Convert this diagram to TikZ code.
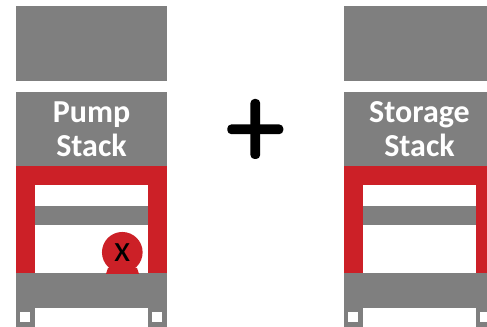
\documentclass[tikz,border=0pt]{standalone}
\usepackage{fontspec}
\setmainfont{Carlito}
\definecolor{cBlock}{RGB}{127,127,127}
\definecolor{cLoop}{RGB}{204,32,39}

\begin{document}
\begin{tikzpicture}[
  x=0.75pt,y=-0.75pt,
  block/.style={rectangle, fill=cBlock, inner sep=0pt, outer sep=0pt, minimum width=113.25pt},
  tall/.style ={block, minimum height=56.25pt},
  stack/.style={block, minimum height=55.5pt, text=white, align=center,
                font=\fontsize{24}{25.5}\selectfont\bfseries},
  base/.style ={block, minimum height=26.25pt},
  bar/.style  ={block, minimum width=84.75pt, minimum height=14.25pt},
  foot/.style ={block, minimum width=14.25pt, minimum height=14.25pt},
  hole/.style ={rectangle, fill=white, inner sep=0pt, outer sep=0pt,
                minimum width=7.5pt, minimum height=7.5pt},
  pipe/.style ={rectangle, fill=cLoop, inner sep=0pt, outer sep=0pt},
  pump/.style ={circle, fill=cLoop, inner sep=0pt, outer sep=0pt, minimum size=30.5pt,
                font=\fontsize{28}{30}\selectfont},
  plus/.style ={rectangle, rounded corners=3pt, fill=black, inner sep=0pt, outer sep=0pt},
]
\useasboundingbox (0,0) rectangle (487,327);
\clip (0,0) rectangle (487,327);

% rows: 43.5 / 129 / 283.5+  columns: 91.5 (left) / 419.5 (right)
% ----- left column ------------------------------------------------------
\node[tall]  (topL)   at (91.5,43.5) {};
\node[stack] (stackL) at (91.5,129.5) {Pump\\Stack};
\node[pipe,minimum width=113.25pt,minimum height=14.25pt] (pipeTL) at (91.5,175.5) {};
\node[pipe,minimum width=14.25pt,minimum height=80.25pt] (pipeAL) at (25.5,219.5) {};
\node[pipe,minimum width=14.25pt,minimum height=80.25pt] (pipeBL) at (157.5,219.5) {};
\node[bar]   (barL)   at (91.5,215.5) {};
\node[base]  (baseL)  at (91.5,290.5) {};
\node[foot]  (footAL) at (25.5,317.5) {};
\node[foot]  (footBL) at (157.5,317.5) {};
\node[hole]  (holeAL) at (25,317) {};
\node[hole]  (holeBL) at (157,317) {};

% ----- pump sits on the base of the left column -------------------------
\fill[cLoop] (106,274) -- (108,268) -- (137,268) -- (139,274) -- cycle;
\node[pump]  (pumpL)  at (122.3,252.3) {x};

% ----- right column -----------------------------------------------------
\node[tall]  (topR)   at (419.5,43.5) {};
\node[stack] (stackR) at (419.5,129.5) {Storage\\Stack};
\node[pipe,minimum width=113.25pt,minimum height=14.25pt] (pipeTR) at (419.5,175.5) {};
\node[pipe,minimum width=14.25pt,minimum height=80.25pt] (pipeAR) at (353.5,219.5) {};
\node[pipe,minimum width=14.25pt,minimum height=80.25pt] (pipeBR) at (485.5,219.5) {};
\node[bar]   (barR)   at (419.5,215.5) {};
\node[base]  (baseR)  at (419.5,290.5) {};
\node[foot]  (footAR) at (353.5,317.5) {};
\node[foot]  (footBR) at (485.5,317.5) {};
\node[hole]  (holeAR) at (353,317) {};
\node[hole]  (holeBR) at (485,317) {};

% ----- plus sign between the columns ------------------------------------
\node[plus,minimum width=42pt,minimum height=7.25pt] (plusH) at (255.3,129.3) {};
\node[plus,minimum width=7.25pt,minimum height=45pt] (plusV) at (255.3,129) {};

\end{tikzpicture}
\end{document}
